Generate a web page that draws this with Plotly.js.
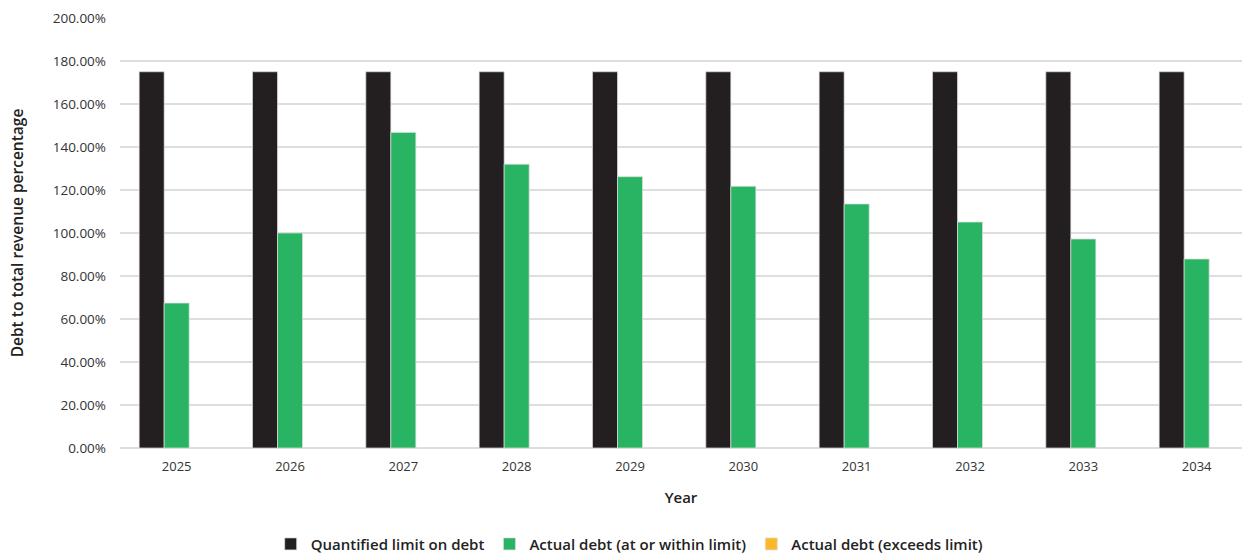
<!DOCTYPE html>
<html>
<head>
<meta charset="utf-8">
<script src="https://cdn.plot.ly/plotly-3.0.1.min.js"></script>
<style>html,body{margin:0;padding:0;background:#fff;}#chart{width:1242px;height:553px;}</style>
</head>
<body>
<div id="chart"></div>
<script>
const years = ['2025','2026','2027','2028','2029','2030','2031','2032','2033','2034'];
const limitValues = [175,175,175,175,175,175,175,175,175,175];
const actualWithin = [67.4,100.0,146.8,132.0,126.2,121.7,113.5,105.1,97.2,87.9];
const actualExceeds = [null,null,null,null,null,null,null,null,null,null];
const seriesNames = ['Quantified limit on debt','Actual debt (at or within limit)','Actual debt (exceeds limit)'];
const seriesColors = ['#231f20','#29b463','#fbb829'];

const font = "'Open Sans', 'Liberation Sans', sans-serif";
const traces = [limitValues, actualWithin, actualExceeds].map((vals, i) => ({
  type: 'bar',
  x: years,
  y: vals,
  name: seriesNames[i],
  marker: {color: seriesColors[i], line: {color: 'rgba(220,220,220,0.9)', width: 0.8}},
  hoverinfo: 'x+y+name'
}));

const layout = {
  width: 1242, height: 553,
  margin: {l: 120, r: 0, t: 18, b: 105},
  paper_bgcolor: '#fff', plot_bgcolor: '#fff',
  barmode: 'group',
  bargap: 0.338,
  bargroupgap: 0,
  xaxis: {
    type: 'category',
    range: [-0.5, 9.4],
    showgrid: false, zeroline: false, showline: false,
    ticks: '',
    ticklabelstandoff: 9,
    tickfont: {family: font, size: 13, color: '#333'},
    title: {text: 'Year', font: {family: font, size: 15, color: '#222', weight: 600}, standoff: 18}
  },
  yaxis: {
    range: [0, 200],
    dtick: 20,
    tickformat: '.2f',
    ticksuffix: '%',
    showgrid: true, gridcolor: '#dedede', gridwidth: 1.5,
    zeroline: true, zerolinecolor: '#dedede', zerolinewidth: 1.5,
    showline: false, ticks: '',
    ticklabelstandoff: 13,
    tickfont: {family: font, size: 13.5, color: '#333'},
    title: {text: 'Debt to total revenue percentage', font: {family: font, size: 15.5, color: '#222', weight: 600}, standoff: 25}
  },
  showlegend: true,
  legend: {
    orientation: 'h',
    xref: 'container', yref: 'container',
    x: 0.507, xanchor: 'center',
    y: 0.016, yanchor: 'middle',
    font: {family: font, size: 15, color: '#222', weight: 600},
    itemwidth: 30,
    traceorder: 'normal'
  }
};

Plotly.newPlot('chart', traces, layout, {displayModeBar: false, staticPlot: true});
</script>
</body>
</html>
